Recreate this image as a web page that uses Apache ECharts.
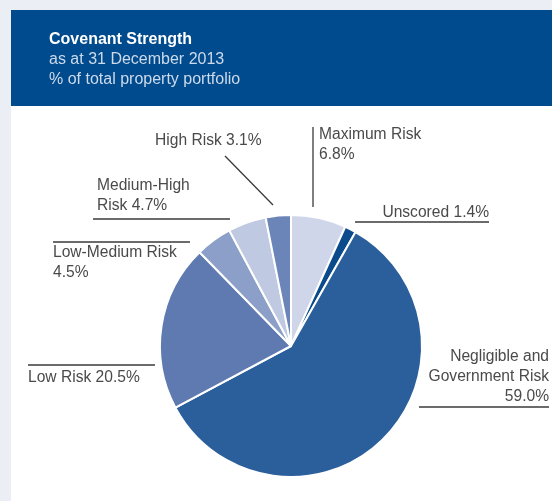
<!DOCTYPE html>
<html>
<head>
<meta charset="utf-8">
<script src="https://cdn.jsdelivr.net/npm/echarts@6/dist/echarts.min.js"></script>
<style>
  html, body { margin: 0; padding: 0; background: #eceef6; }
  #chart { width: 552px; height: 501px; }
</style>
</head>
<body>
<div id="chart"></div>
<script>
// Covenant strength breakdown, clockwise from 12 o'clock
const categories = ['Maximum Risk', 'Unscored', 'Negligible and Government Risk', 'Low Risk', 'Low-Medium Risk', 'Medium-High Risk', 'High Risk'];
const shares = [6.8, 1.4, 59.0, 20.5, 4.5, 4.7, 3.1];
// Label wording with line breaks; {v} is replaced with the share
const labelTemplates = ['Maximum Risk\n{v}', 'Unscored {v}', 'Negligible and\nGovernment Risk\n{v}', 'Low Risk {v}', 'Low-Medium Risk\n{v}', 'Medium-High\nRisk {v}', 'High Risk {v}'];
const sliceColors = ['#cfd6ea', '#0b4b8c', '#2a5f9c', '#5e7ab0', '#8b9fc9', '#c0c9e2', '#6b85b9'];

// Label anchors and alignment
const labelSpots = [
  { x: 319, y: 125, align: 'left' },
  { x: 489, y: 203, align: 'right' },
  { x: 549, y: 347, align: 'right' },
  { x: 28, y: 368, align: 'left' },
  { x: 53, y: 243, align: 'left' },
  { x: 97, y: 176, align: 'left' },
  { x: 155, y: 131, align: 'left' }
];

// Leader rules next to the labels
const rules = [
  [313, 127, 313, 207],
  [355, 222, 489, 222],
  [419, 407, 549, 407],
  [28, 365, 155, 365],
  [53, 242, 190, 242],
  [93, 219, 230, 219],
  [225, 156, 273, 205]
];

const FONT = 'Liberation Sans, Arial, sans-serif';

const chart = echarts.init(document.getElementById('chart'), null, { renderer: 'canvas' });

const graphics = [
  { type: 'rect', z: -10, shape: { x: 11, y: 10, width: 541, height: 96 }, style: { fill: '#004b8d' }, silent: true },
  { type: 'rect', z: -10, shape: { x: 11, y: 106, width: 541, height: 395 }, style: { fill: '#ffffff' }, silent: true }
].concat(rules.map(r => ({
  type: 'line', z: 5, silent: true,
  shape: { x1: r[0], y1: r[1], x2: r[2], y2: r[3] },
  style: { stroke: '#3a3a3a', lineWidth: 1.3 }
})));

chart.setOption({
  backgroundColor: '#eceef6',
  animation: false,
  title: {
    text: 'Covenant Strength',
    subtext: 'as at 31 December 2013\n% of total property portfolio',
    left: 44,
    top: 25,
    itemGap: 0,
    textStyle: { color: '#ffffff', fontSize: 16, lineHeight: 20, fontWeight: 'bold', fontFamily: FONT },
    subtextStyle: { color: '#cddaeb', fontSize: 16, lineHeight: 20, fontFamily: FONT }
  },
  graphic: graphics,
  series: [{
    type: 'pie',
    center: [291, 346],
    radius: 131,
    startAngle: 90,
    clockwise: true,
    data: categories.map((name, i) => ({ name: name, value: shares[i], itemStyle: { color: sliceColors[i] } })),
    itemStyle: { borderColor: '#ffffff', borderWidth: 2 },
    label: {
      show: true,
      color: '#4a4a4a',
      fontSize: 15.6,
      lineHeight: 20,
      fontFamily: FONT,
      overflow: 'none',
      edgeDistance: 0,
      formatter: p => labelTemplates[p.dataIndex].replace('{v}', shares[p.dataIndex].toFixed(1) + '%')
    },
    labelLine: { show: false },
    labelLayout: p => {
      const s = labelSpots[p.dataIndex];
      return { x: s.x, y: s.y, align: s.align, verticalAlign: 'top', hideOverlap: false, moveOverlap: false };
    },
    emphasis: { disabled: true }
  }]
});
</script>
</body>
</html>
